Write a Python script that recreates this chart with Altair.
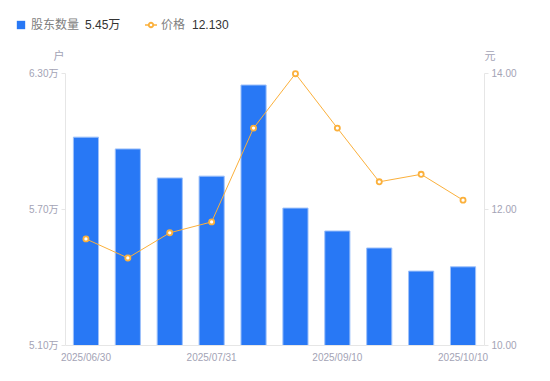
import altair as alt
import pandas as pd

dates = ["2025/06/30", "2025/07/10", "2025/07/20", "2025/07/31", "2025/08/10",
         "2025/08/20", "2025/09/10", "2025/09/19", "2025/09/30", "2025/10/10"]
holders = [6.017, 5.965, 5.837, 5.845, 6.247, 5.704, 5.603, 5.528, 5.426, 5.445]
prices = [11.56, 11.28, 11.65, 11.81, 13.19, 13.99, 13.19, 12.40, 12.51, 12.13]
shown_dates = ["2025/06/30", "2025/07/31", "2025/09/10", "2025/10/10"]

df = pd.DataFrame({"date": dates, "holders": holders, "price": prices})
one = pd.DataFrame({"k": [0]})

FONT = "Liberation Sans, Noto Sans CJK SC"
BLUE = "#2878F5"
ORANGE = "#FBB03B"
GREY = "#A3A3B5"

x = alt.X("date:N", sort=dates, title=None,
          scale=alt.Scale(paddingInner=0.4, paddingOuter=0.2),
          axis=alt.Axis(values=shown_dates, labelAngle=0, ticks=False, domainColor="#E6E6E6",
                        labelColor=GREY, labelFontSize=10, labelFont=FONT, labelPadding=7,
                        labelOverlap=False))

bars = alt.Chart(df).mark_bar(color=BLUE, stroke="#9EC1FA", strokeWidth=1, clip=True).encode(
    x=x,
    y=alt.Y("holders:Q", title=None,
            scale=alt.Scale(domain=[5.1, 6.3], nice=False, zero=False),
            axis=alt.Axis(values=[5.1, 5.7, 6.3], labelExpr="format(datum.value, '.2f') + '万'",
                          grid=False, domainColor="#E6E6E6", tickColor="#E6E6E6", tickSize=4,
                          labelColor=GREY, labelFontSize=10, labelFont=FONT, labelPadding=3)),
)

line = alt.Chart(df).mark_line(color=ORANGE, strokeWidth=1).encode(
    x=x,
    y=alt.Y("price:Q", title=None,
            scale=alt.Scale(domain=[10, 14], nice=False, zero=False),
            axis=alt.Axis(orient="right", values=[10, 12, 14], format=".2f",
                          grid=False, domainColor="#E6E6E6", tickColor="#E6E6E6", tickSize=4,
                          labelColor=GREY, labelFontSize=10, labelFont=FONT, labelPadding=3)),
)
pts = alt.Chart(df).mark_point(shape="circle", filled=True, fill="white", stroke=ORANGE,
                               strokeWidth=1.8, size=26, opacity=1).encode(
    x=x, y=alt.Y("price:Q", scale=alt.Scale(domain=[10, 14], nice=False, zero=False), axis=None)
)

LY = -48
base = alt.Chart(one)
leg_sq = base.mark_square(color=BLUE, size=70, opacity=1).encode(x=alt.value(-44), y=alt.value(LY))
leg_t1 = base.mark_text(text="股东数量", align="left", baseline="middle", fontSize=12,
                        font=FONT, color="#808080").encode(x=alt.value(-34), y=alt.value(LY))
leg_v1 = base.mark_text(text="5.45万", align="left", baseline="middle", fontSize=12,
                        font=FONT, color="#333333").encode(x=alt.value(20), y=alt.value(LY))
leg_ln = base.mark_rule(color=ORANGE, strokeWidth=1.5).encode(
    x=alt.value(80), x2=alt.value(92), y=alt.value(LY))
leg_pt = base.mark_point(shape="circle", filled=True, fill="white", stroke=ORANGE,
                         strokeWidth=1.8, size=20, opacity=1).encode(x=alt.value(86), y=alt.value(LY))
leg_t2 = base.mark_text(text="价格", align="left", baseline="middle", fontSize=12,
                        font=FONT, color="#808080").encode(x=alt.value(96), y=alt.value(LY))
leg_v2 = base.mark_text(text="12.130", align="left", baseline="middle", fontSize=12,
                        font=FONT, color="#333333").encode(x=alt.value(127), y=alt.value(LY))
unit_l = base.mark_text(text="户", align="center", baseline="middle", fontSize=11,
                        font=FONT, color=GREY).encode(x=alt.value(-6), y=alt.value(-16))
unit_r = base.mark_text(text="元", align="center", baseline="middle", fontSize=11,
                        font=FONT, color=GREY).encode(x=alt.value(425), y=alt.value(-16))

chart = alt.layer(bars, line, pts, leg_sq, leg_t1, leg_v1, leg_ln, leg_pt, leg_t2, leg_v2,
                  unit_l, unit_r).resolve_scale(y="independent").properties(
    width=419, height=272,
    autosize=alt.AutoSizeParams(type="none"),
    padding={"left": 57, "top": 65, "right": 56, "bottom": 20},
).configure_view(stroke=None)

chart.save("out.html", embed_options={"renderer": "svg", "actions": False})
